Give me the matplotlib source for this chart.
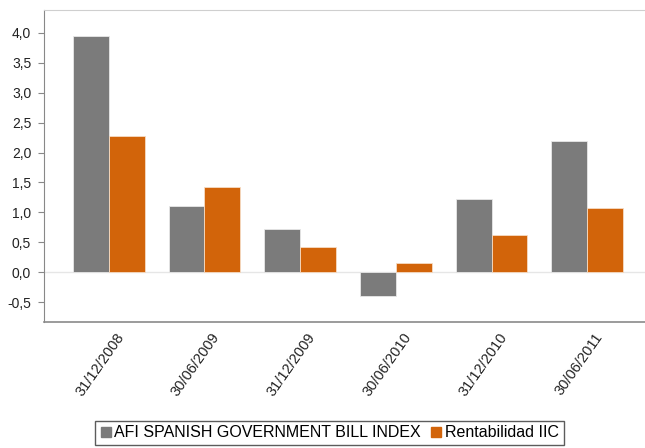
import matplotlib
matplotlib.use("Agg")
import matplotlib.pyplot as plt
import numpy as np
from matplotlib.lines import Line2D

categories = ["31/12/2008", "30/06/2009", "31/12/2009", "30/06/2010", "31/12/2010", "30/06/2011"]
afi_index = [3.95, 1.11, 0.73, -0.40, 1.22, 2.20]
rentabilidad = [2.28, 1.42, 0.43, 0.16, 0.63, 1.07]
series_names = ["AFI SPANISH GOVERNMENT BILL INDEX", "Rentabilidad IIC"]
yticks = [-0.5, 0.0, 0.5, 1.0, 1.5, 2.0, 2.5, 3.0, 3.5, 4.0]

gray = "#7b7b7b"
orange = "#d2640a"

plt.rcParams['font.family'] = ['Liberation Sans Narrow', 'Liberation Sans', 'DejaVu Sans']

fig = plt.figure(figsize=(6.45, 4.48), dpi=100)
ax = fig.add_axes([43.7/645, 1-322/448, 1-43.7/645, (322-10)/448])

x = np.arange(len(categories))
w = 0.375
ax.bar(x - w/2, afi_index, w, color=gray, edgecolor="#e8e8e8", linewidth=0.6, zorder=3)
ax.bar(x + w/2, rentabilidad, w, color=orange, edgecolor="#f6dcc4", linewidth=0.6, zorder=3)

ax.axhline(0, color="#e6e6e6", linewidth=1, zorder=2)
ax.set_xlim(-0.68, 5.604)
ax.set_ylim(-0.83, 4.38)
ax.set_yticks(yticks)
ax.set_yticklabels([f"{v:.1f}".replace(".", ",") for v in yticks], fontsize=10,
                   color="#222222", family=['Liberation Sans', 'DejaVu Sans'])
# label anchors sit slightly right of the group centres, as in the original
ax.set_xticks(x + 0.13)
ax.set_xticklabels(categories, rotation=55, ha="right", va="center", fontsize=10.5,
                   color="#222222", rotation_mode="anchor",
                   family=['Liberation Sans', 'DejaVu Sans'])
ax.tick_params(axis="x", length=0, pad=9)
ax.tick_params(axis="y", length=4, color="#888888", pad=5)

ax.spines["right"].set_visible(False)
ax.spines["top"].set_color("#cfcfcf")
ax.spines["left"].set_color("#888888")
ax.spines["bottom"].set_color("#8a8a8a")
ax.spines["bottom"].set_linewidth(1.2)

handles = [Line2D([], [], marker="s", linestyle="none", markersize=7.5, color=gray),
           Line2D([], [], marker="s", linestyle="none", markersize=7.5, color=orange)]
leg = fig.legend(handles, series_names, loc="upper center", bbox_to_anchor=(329.5/645, 1-420.7/448),
                 ncol=2, frameon=True, fontsize=11.5, handlelength=0.7, handletextpad=0.2,
                 columnspacing=0.6, borderpad=0.3, fancybox=False, borderaxespad=0)
leg.get_frame().set_edgecolor("#333333")
leg.get_frame().set_linewidth(1.0)

fig.savefig("out.png", dpi=100)
